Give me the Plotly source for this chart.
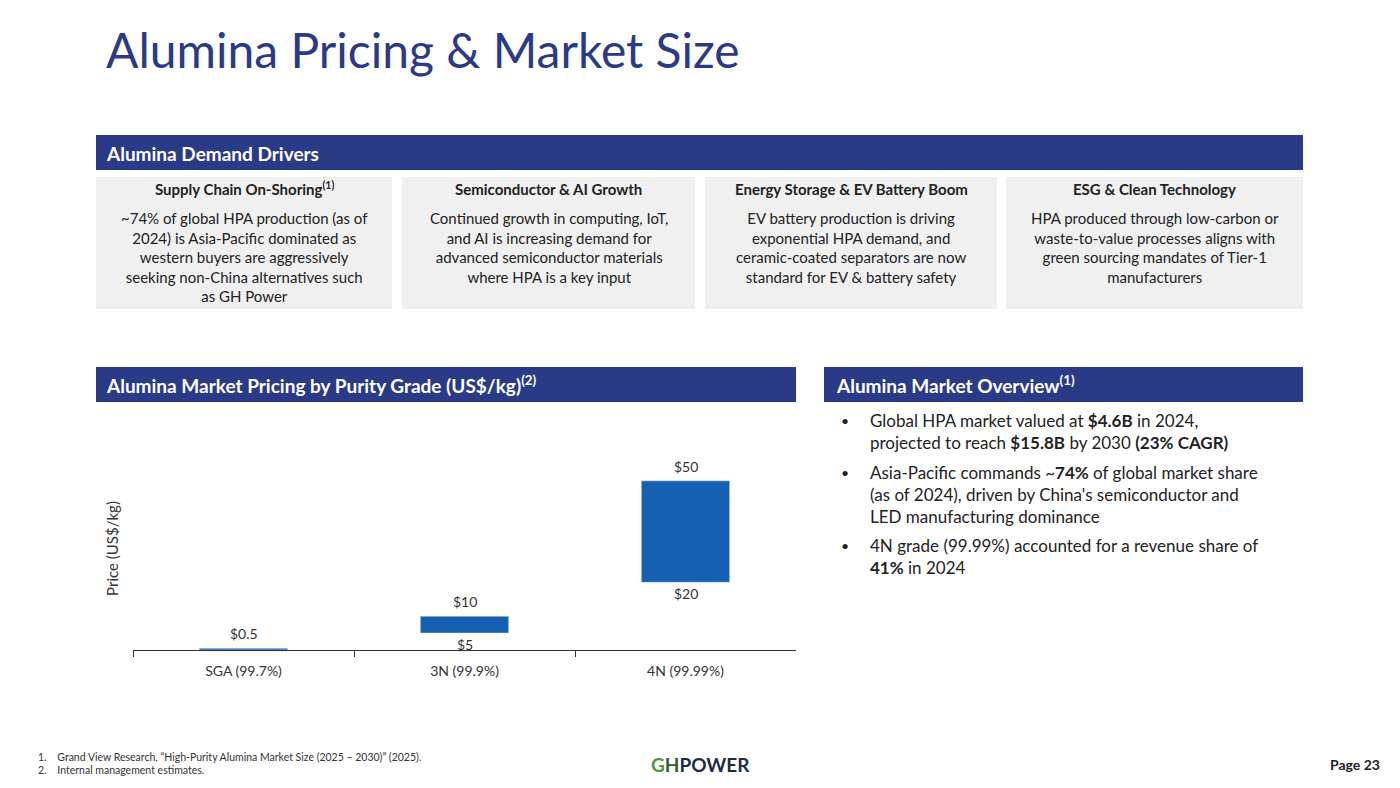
import plotly.graph_objects as go

categories = ["SGA (99.7%)", "3N (99.9%)", "4N (99.99%)"]
price_low = [0, 5, 20]
price_high = [0.5, 10, 50]
low_labels = ["", "$5", "$20"]
high_labels = ["$0.5", "$10", "$50"]

OFF = 8
W, H = 1400 - 2 * OFF, 788 - 2 * OFF
NAVY = "#2b3a87"
BLUE = "#1560b0"
FONT = "Lato, 'Noto Sans', sans-serif"

def px(x): return (x - OFF) / W
def py(y): return 1 - (y - OFF) / H

fig = go.Figure()
fig.add_trace(go.Bar(
    x=categories, base=price_low,
    y=[h - l for h, l in zip(price_high, price_low)],
    marker_color=BLUE, width=0.4, hoverinfo="skip"))

for c, lo, hi, ll, hl in zip(categories, price_low, price_high, low_labels, high_labels):
    fig.add_annotation(x=c, y=hi, text=hl, showarrow=False, yanchor="bottom", yshift=4,
                       font=dict(size=14, color="#333"), xref="x", yref="y")
    if ll:
        fig.add_annotation(x=c, y=lo, text=ll, showarrow=False, yanchor="top", yshift=-1,
                           font=dict(size=14, color="#333"), xref="x", yref="y")

shapes = []
def rect(x0, y0, x1, y1, color):
    shapes.append(dict(type="rect", xref="paper", yref="paper", x0=px(x0), x1=px(x1),
                       y0=py(y1), y1=py(y0), fillcolor=color, line=dict(width=0), layer="below"))

rect(96, 135, 1303, 170, NAVY)
rect(96, 367, 796, 402, NAVY)
rect(824, 367, 1303, 402, NAVY)
boxes = [(96, 392), (402, 695), (705, 997), (1006, 1303)]
for x0, x1 in boxes:
    rect(x0, 177, x1, 309, "#f0f0f0")

def ann(x, y, text, size, color="#222", xanchor="left", yanchor="middle", align="left", **kw):
    fig.add_annotation(xref="paper", yref="paper", x=px(x), y=py(y), text=text, showarrow=False,
                       xanchor=xanchor, yanchor=yanchor, align=align,
                       font=dict(size=size, color=color, family=FONT), **kw)

ann(104, 50, "Alumina Pricing &amp; Market Size", 48, NAVY)
ann(104, 153, "<b>Alumina Demand Drivers</b>", 19, "white")
ann(104, 385, "<b>Alumina Market Pricing by Purity Grade (US$/kg)<sup>(2)</sup></b>", 19, "white")
ann(834, 385, "<b>Alumina Market Overview<sup>(1)</sup></b>", 19, "white")

heads = ["Supply Chain On-Shoring<sup>(1)</sup>", "Semiconductor &amp; AI Growth",
         "Energy Storage &amp; EV Battery Boom", "ESG &amp; Clean Technology"]
bodies = [
    "~74% of global HPA production (as of<br>2024) is Asia-Pacific dominated as<br>western buyers are aggressively<br>seeking non-China alternatives such<br>as GH Power",
    "Continued growth in computing, IoT,<br>and AI is increasing demand for<br>advanced semiconductor materials<br>where HPA is a key input",
    "EV battery production is driving<br>exponential HPA demand, and<br>ceramic-coated separators are now<br>standard for EV &amp; battery safety",
    "HPA produced through low-carbon or<br>waste-to-value processes aligns with<br>green sourcing mandates of Tier-1<br>manufacturers",
]
for (x0, x1), h, b in zip(boxes, heads, bodies):
    cx = (x0 + x1) / 2
    ann(cx, 189, "<b>" + h + "</b>", 15, "#222", xanchor="center", align="center")
    ann(cx, 207, b, 15, "#222", xanchor="center", yanchor="top", align="center")

bullets = [
    (408, "Global HPA market valued at <b>$4.6B</b> in 2024,<br>projected to reach <b>$15.8B</b> by 2030 <b>(23% CAGR)</b>"),
    (460, "Asia-Pacific commands ~<b>74%</b> of global market share<br>(as of 2024), driven by China's semiconductor and<br>LED manufacturing dominance"),
    (533, "4N grade (99.99%) accounted for a revenue share of<br><b>41%</b> in 2024"),
]
for y, t in bullets:
    ann(839, y + 2, "•", 14, yanchor="top")
    ann(868, y, t, 17, yanchor="top")

ann(36, 757, "1.    Grand View Research, “High-Purity Alumina Market Size (2025 – 2030)” (2025).", 10.5, "#333")
ann(36, 770, "2.    Internal management estimates.", 10.5, "#333")
ann(700, 764, "<b><span style='color:#4a9a3c'>G</span><span style='color:#2f5f2f'>H</span><span style='color:#1f2a44'>POWER</span></b>", 19, xanchor="center")
ann(1382, 764, "<b>Page 23</b>", 14, "#222", xanchor="right")

fig.update_layout(
    width=W, height=H, margin=dict(l=0, r=0, t=0, b=0),
    paper_bgcolor="white", plot_bgcolor="white", showlegend=False,
    shapes=shapes, font=dict(family=FONT),
    xaxis=dict(domain=[px(133), px(796)], showline=True, linecolor="#333", linewidth=1,
               ticks="outside", tickson="boundaries", ticklen=6, tickcolor="#333",
               ticklabelstandoff=8,
               tickfont=dict(size=14, color="#333"), showgrid=False, fixedrange=True),
    yaxis=dict(domain=[py(650), py(447)], range=[0, 60], showticklabels=False, showgrid=False,
               zeroline=False, showline=False,
               title=dict(text="Price (US$/kg)", font=dict(size=15, color="#333"), standoff=9)),
)
fig.write_html("out.html")
